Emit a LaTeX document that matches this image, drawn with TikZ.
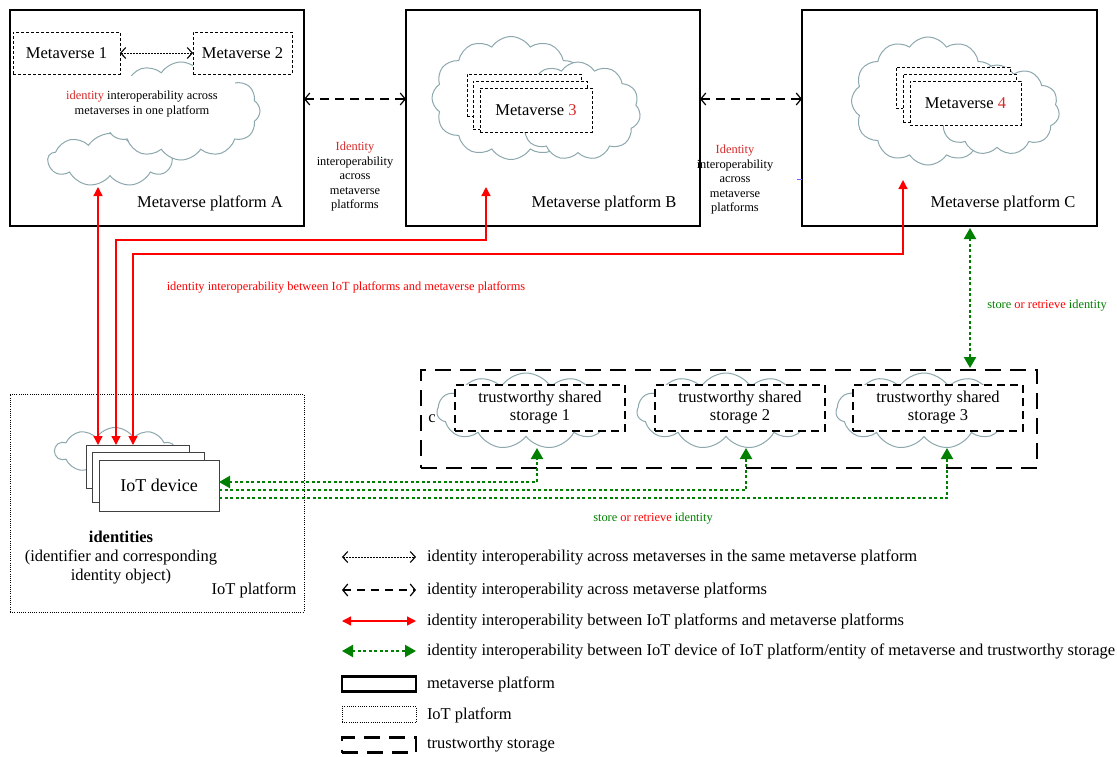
\documentclass[tikz,border=0pt]{standalone}
\usepackage{fontspec}
\setmainfont{Liberation Serif}
\usetikzlibrary{shapes.symbols,arrows.meta}
\definecolor{cloudc}{RGB}{140,168,174}
\definecolor{idred}{RGB}{214,40,40}
\definecolor{grn}{RGB}{0,128,0}
\tikzset{
  redtip/.tip={Triangle[length=9pt,width=9pt]},
  grntip/.tip={Triangle[length=11pt,width=12pt]},
  barbtip/.tip={Straight Barb[length=5pt,width=11pt,line width=1.1pt]},
  barbbig/.tip={Straight Barb[length=5pt,width=12pt,line width=1.2pt]},
}
\begin{document}
\begin{tikzpicture}[x=1pt,y=-1pt,
  every node/.style={inner sep=0pt, outer sep=0pt},
  txt/.style={font=\fontsize{16.5}{19}\selectfont},
  small/.style={font=\fontsize{12.4}{14.5}\selectfont, align=center},
  platform/.style={draw, line width=2.2pt},
  mvbox/.style={draw, line width=0.9pt, dash pattern=on 3pt off 2pt, fill=white},
  puff/.style={cloud, cloud puffs=#1, cloud puff arc=115, cloud ignores aspect,
    draw=cloudc, line width=1pt, fill=white},
  iotbox/.style={draw, line width=0.8pt, dash pattern=on 1pt off 1.2pt},
  devbox/.style={draw=black!75, line width=1pt, fill=white},
  storebox/.style={draw, line width=2.5pt, dash pattern=on 16pt off 9pt},
  sharebox/.style={draw, line width=1.3pt, dash pattern=on 8pt off 5pt, fill=white,
    align=center, font=\fontsize{16.5}{18}\selectfont},
  dotarr/.style={line width=1pt, dash pattern=on 1.5pt off 1.5pt, {barbtip}-{barbtip}},
  dasharr/.style={line width=1.3pt, dash pattern=on 9pt off 6pt, {barbbig}-{barbbig}},
  redline/.style={draw=red, line width=1.3pt},
  grnline/.style={draw=grn, line width=2.2pt, dash pattern=on 3pt off 2.5pt},
]
\useasboundingbox (0,0) rectangle (1117,756);

% ---------------- metaverse platforms ----------------
\node[platform, minimum width=294pt, minimum height=216pt] (pA) at (157,118) {};
\node[platform, minimum width=294pt, minimum height=216pt] (pB) at (553,118) {};
\node[platform, minimum width=295pt, minimum height=216pt] (pC) at (949.5,118) {};

% platform A: two metaverses and the shared cloud
\node[puff=9, minimum width=124pt, minimum height=53pt] (cA1) at (110,160) {};
\node[puff=12, minimum width=158pt, minimum height=98pt] (cA2) at (181,111) {};
\node[mvbox, txt, minimum width=107pt, minimum height=42pt] (mv1) at (66.5,53) {Metaverse 1};
\node[mvbox, txt, minimum width=99pt, minimum height=42pt] (mv2) at (242.5,53) {Metaverse 2};
\node[small, fill=white, minimum width=186pt, minimum height=56pt] (cAtext) at (142,104)
  {\textcolor{idred}{identity} interoperability across\\metaverses in one platform};
\draw[dotarr] (mv1.east) -- (mv2.west);
\node[txt] (pAlab) at (210,203) {Metaverse platform A};

% platform B
\node[puff=12, minimum width=158pt, minimum height=123pt] (cB1) at (511,98) {};
\node[puff=11, minimum width=125pt, minimum height=98pt] (cB2) at (578,111) {};
\node[mvbox, minimum width=114pt, minimum height=42pt] (m3a) at (524,95) {};
\node[mvbox, minimum width=114pt, minimum height=48pt] (m3b) at (530,105) {};
\node[mvbox, txt, minimum width=112pt, minimum height=44pt] (m3c) at (536,110) {Metaverse \textcolor{idred}{3}};
\node[txt] (pBlab) at (604,203) {Metaverse platform B};

% platform C
\node[puff=12, minimum width=153pt, minimum height=128pt] (cC1) at (928,101) {};
\node[puff=11, minimum width=125pt, minimum height=90pt] (cC2) at (997,110) {};
\node[mvbox, minimum width=114pt, minimum height=41pt] (m4a) at (953,87.5) {};
\node[mvbox, minimum width=113pt, minimum height=48pt] (m4b) at (959.5,98) {};
\node[mvbox, txt, minimum width=111pt, minimum height=44pt] (m4c) at (965.5,103) {Metaverse \textcolor{idred}{4}};
\node[txt] (pClab) at (1003,203) {Metaverse platform C};

% links across platforms
\draw[dasharr] ([yshift=19pt]pA.east) -- ([yshift=19pt]pB.west);
\draw[dasharr] ([yshift=19pt]pB.east) -- ([yshift=19pt]pC.west);
\node[small] (abtext) at (355,177)
  {\textcolor{idred}{Identity}\\interoperability\\across\\metaverse\\platforms};
\node[small] (bctext) at (735,180)
  {\textcolor{idred}{Identity}\\interoperability\\across\\metaverse\\platforms};
\draw[blue!60, line width=0.6pt] (797,179) -- (pC.west |- 0,179);

% ---------------- IoT platform ----------------
\node[iotbox, minimum width=294pt, minimum height=218pt] (iot) at (157,503) {};
\node[puff=10, minimum width=120pt, minimum height=47pt] (cIoT) at (115,451) {};
\node[devbox, minimum width=103pt, minimum height=43pt] (d1) at (137.5,466.5) {};
\node[devbox, minimum width=112pt, minimum height=50pt] (d2) at (148,477) {};
\node[devbox, minimum width=120pt, minimum height=51pt, font=\fontsize{18}{21}\selectfont] (d3) at (159,485.5) {IoT device};
\node[font=\fontsize{16.5}{19}\selectfont\bfseries] (idt) at (121,537) {identities};
\node[txt, align=center] (idtsub) at (121,566.5) {(identifier and corresponding\\identity object)};
\node[txt] (iotlab) at (254,590) {IoT platform};

% ---------------- trustworthy storage ----------------
\node[storebox, minimum width=616pt, minimum height=98pt] (store) at (729,419) {};
\node[txt] (cmark) at (432,419) {c};
\node[puff=11, minimum width=178pt, minimum height=76pt] (cS1) at (526,411) {};
\node[puff=11, minimum width=178pt, minimum height=76pt] (cS2) at (726,411) {};
\node[puff=11, minimum width=176pt, minimum height=76pt] (cS3) at (924,411) {};
\node[sharebox, minimum width=170pt, minimum height=46pt] (s1) at (540,408) {trustworthy shared\\storage 1};
\node[sharebox, minimum width=170pt, minimum height=46pt] (s2) at (740,408) {trustworthy shared\\storage 2};
\node[sharebox, minimum width=170pt, minimum height=46pt] (s3) at (938,408) {trustworthy shared\\storage 3};

% ---------------- IoT <-> metaverse platforms ----------------
\coordinate (rA) at (98,187);
\coordinate (rB) at (486,187);
\coordinate (rC) at (903,180);
\coordinate (rAd) at (98,445);
\coordinate (rBd) at (116,445);
\coordinate (rCd) at (133,445);
\draw[redline, {redtip}-{redtip}] (rAd) -- (rA);
\draw[redline, {redtip}-{redtip}] (rBd) |- (486,240) -- (rB);
\draw[redline, {redtip}-{redtip}] (rCd) |- (903,254) -- (rC);
\node[small, text=red] (redlab) at (346,287)
  {identity interoperability between IoT platforms and metaverse platforms};

% ---------------- store / retrieve identity ----------------
\coordinate (g1) at (537,448);
\coordinate (g2) at (746,448);
\coordinate (g3) at (947,448);
\draw[grnline, {grntip}-{grntip}] ([yshift=3.5pt]d3.east) -| (g1);
\draw[grnline, -{grntip}] ([yshift=-4.5pt]d3.east) -| (g2);
\draw[grnline, -{grntip}] ([yshift=-12.5pt]d3.east) -| (g3);
\coordinate (gC) at (970,228);
\coordinate (gS) at (970,368);
\draw[grnline, {grntip}-{grntip}] (gC) -- (gS);

\node[small] (srlab1) at (653,519)
  {\textcolor{grn}{store} \textcolor{red}{or retrieve} \textcolor{grn}{identity}};
\node[small] (srlab2) at (1047,306)
  {\textcolor{grn}{store} \textcolor{red}{or retrieve} \textcolor{grn}{identity}};

% ---------------- legend ----------------
\coordinate (l1a) at (342,557); \coordinate (l1b) at (416,557);
\coordinate (l2a) at (342,590); \coordinate (l2b) at (416,590);
\coordinate (l3a) at (342,621); \coordinate (l3b) at (416,621);
\coordinate (l4a) at (342,651); \coordinate (l4b) at (416,651);
\draw[dotarr] (l1a) -- (l1b);
\draw[line width=1.2pt, dash pattern=on 8pt off 6pt, {barbbig}-{barbbig}] (l2a) -- (l2b);
\draw[redline, {redtip}-{redtip}] (l3a) -- (l3b);
\draw[grnline, {grntip}-{grntip}] (l4a) -- (l4b);
\node[platform, minimum width=74pt, minimum height=15pt] (k5) at (379,684) {};
\node[iotbox, minimum width=74pt, minimum height=16pt] (k6) at (379,714.5) {};
\node[storebox, minimum width=74pt, minimum height=15pt] (k7) at (379,745) {};
\node[txt, anchor=west] (t1) at (427,557) {identity interoperability across metaverses in the same metaverse platform};
\node[txt, anchor=west] (t2) at (427,590) {identity interoperability across metaverse platforms};
\node[txt, anchor=west] (t3) at (427,621) {identity interoperability between IoT platforms and metaverse platforms};
\node[txt, anchor=west] (t4) at (427,651) {identity interoperability between IoT device of IoT platform/entity of metaverse and trustworthy storage};
\node[txt, anchor=west] (t5) at (427,684) {metaverse platform};
\node[txt, anchor=west] (t6) at (427,715) {IoT platform};
\node[txt, anchor=west] (t7) at (427,745) {trustworthy storage};
\end{tikzpicture}
\end{document}
